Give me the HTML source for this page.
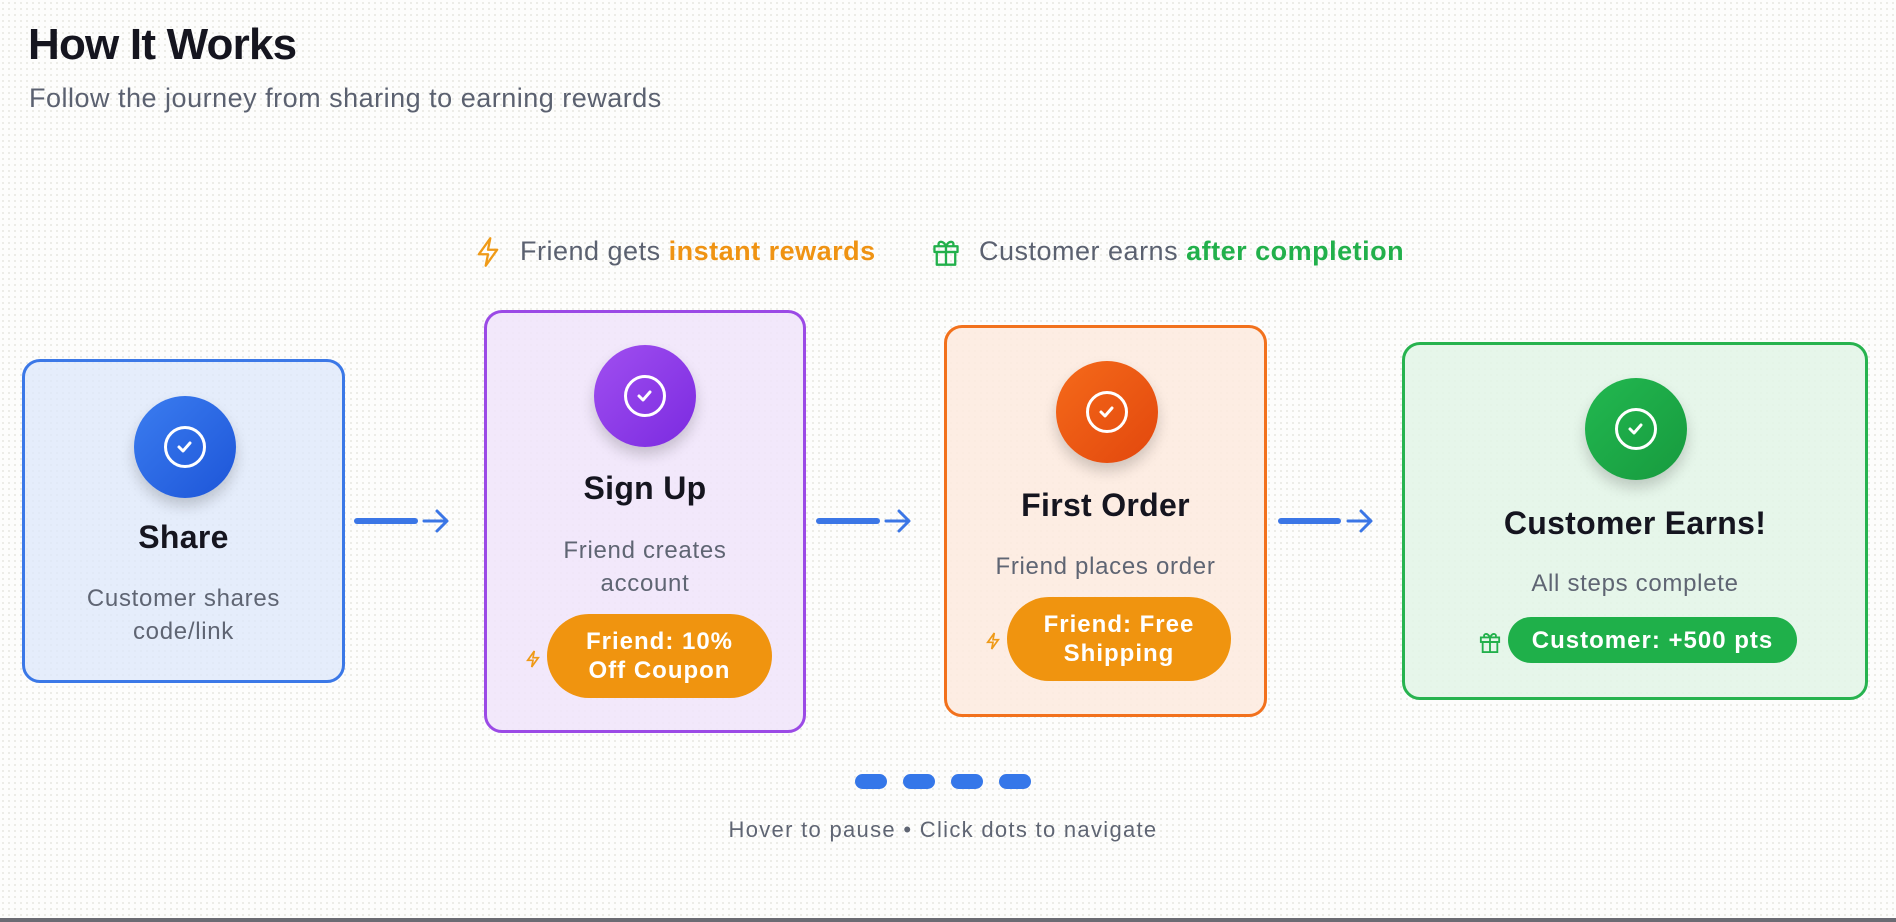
<!DOCTYPE html>
<html><head><meta charset="utf-8"><style>
*{margin:0;padding:0;box-sizing:border-box}
body{width:1896px;height:922px;overflow:hidden;background:#fdfdfc;background-image:radial-gradient(#e6e6e0 1px,transparent 1px);background-size:6px 6px;font-family:"Liberation Sans",sans-serif;position:relative}
.a{position:absolute}
h1{position:absolute;left:28px;top:20px;font-size:44px;font-weight:700;color:#15151f;letter-spacing:-0.8px}
.sub{left:29px;top:83px;font-size:27px;color:#5b6170;letter-spacing:0.5px}
.leg{top:236px;font-size:27px;color:#5b6170;white-space:nowrap;letter-spacing:0.5px}
.card{position:absolute;border:3.5px solid;border-radius:18px}
.circ{position:absolute;width:102px;height:102px;border-radius:50%;box-shadow:0 8px 14px rgba(0,0,0,.18)}
.circ::after{content:"";position:absolute;left:30px;top:30px;width:42px;height:42px;border:3.5px solid #fff;border-radius:50%;box-sizing:border-box}
.circ svg{position:absolute;left:41px;top:43px}
.t{position:absolute;width:100%;text-align:center;font-size:32px;font-weight:700;color:#15151f;letter-spacing:0.3px}
.d{position:absolute;width:100%;text-align:center;font-size:24px;color:#5f6573;line-height:33px;letter-spacing:0.7px}
.badge{position:absolute;border-radius:42px;color:#fff;font-weight:700;font-size:24px;text-align:center;display:flex;align-items:center;justify-content:center;line-height:29px;letter-spacing:1px}
.line{position:absolute;height:6px;border-radius:3px;background:#3b76e6}
.dot{position:absolute;top:774px;width:32px;height:15px;border-radius:8px;background:#3577e9}
</style></head><body>
<h1>How It Works</h1>
<div class="a sub">Follow the journey from sharing to earning rewards</div>

<svg class="a" style="left:474px;top:236px" width="28" height="32" viewBox="0 0 24 28"><path d="M14 2 L4 16 H12 L10 26 L20 12 H12 Z" fill="none" stroke="#ef9a17" stroke-width="2" stroke-linejoin="round"/></svg>
<div class="a leg" style="left:520px">Friend gets <b style="color:#ef9313">instant rewards</b></div>
<svg class="a" style="left:932px;top:237px" width="28" height="30" viewBox="0 0 24 26"><g fill="none" stroke="#22b04b" stroke-width="2" stroke-linejoin="round"><rect x="2" y="8" width="20" height="5"/><rect x="4" y="13" width="16" height="11"/><path d="M12 8v16M12 8c-3-6-8-4-6 0M12 8c3-6 8-4 6 0"/></g></svg>
<div class="a leg" style="left:979px">Customer earns <b style="color:#22b04b">after completion</b></div>

<!-- card1 -->
<div class="card" style="left:22px;top:359px;width:323px;height:324px;border-color:#3b78e7;background:rgba(222,233,250,.8)">
<div class="circ" style="left:109px;top:34px;background:linear-gradient(135deg,#3b7df0,#1d55d8)"><svg width="20" height="16" viewBox="0 0 20 16"><path d="M4 8 L8 12 L15 4" fill="none" stroke="#fff" stroke-width="3" stroke-linecap="round" stroke-linejoin="round"/></svg></div>
<div class="t" style="top:157px">Share</div>
<div class="d" style="top:220px">Customer shares<br>code/link</div>
</div>
<div class="line" style="left:354px;top:518px;width:64px"></div>
<svg class="a" style="left:420px;top:506px" width="32" height="30" viewBox="0 0 32 30"><path d="M4 15 H26 M17 5 L27 15 L17 25" fill="none" stroke="#3b76e6" stroke-width="3" stroke-linecap="round" stroke-linejoin="round"/></svg>

<!-- card2 -->
<div class="card" style="left:484px;top:310px;width:322px;height:423px;border-color:#9b4ae6;background:rgba(240,228,250,.85)">
<div class="circ" style="left:107px;top:32px;background:linear-gradient(135deg,#a04ff0,#7b2ae0)"><svg width="20" height="16" viewBox="0 0 20 16"><path d="M4 8 L8 12 L15 4" fill="none" stroke="#fff" stroke-width="3" stroke-linecap="round" stroke-linejoin="round"/></svg></div>
<div class="t" style="top:157px">Sign Up</div>
<div class="d" style="top:221px">Friend creates<br>account</div>
<svg class="a" style="left:38px;top:336px" width="16" height="20" viewBox="0 0 24 28"><path d="M14 2 L4 16 H12 L10 26 L20 12 H12 Z" fill="none" stroke="#ef9a17" stroke-width="2.5"/></svg>
<div class="badge" style="left:60px;top:301px;width:225px;height:84px;background:#f0940f">Friend: 10%<br>Off Coupon</div>
</div>
<div class="line" style="left:816px;top:518px;width:64px"></div>
<svg class="a" style="left:882px;top:506px" width="32" height="30" viewBox="0 0 32 30"><path d="M4 15 H26 M17 5 L27 15 L17 25" fill="none" stroke="#3b76e6" stroke-width="3" stroke-linecap="round" stroke-linejoin="round"/></svg>

<!-- card3 -->
<div class="card" style="left:944px;top:325px;width:323px;height:392px;border-color:#f2711c;background:rgba(253,234,222,.85)">
<div class="circ" style="left:109px;top:33px;background:linear-gradient(135deg,#f56a1a,#e2470d)"><svg width="20" height="16" viewBox="0 0 20 16"><path d="M4 8 L8 12 L15 4" fill="none" stroke="#fff" stroke-width="3" stroke-linecap="round" stroke-linejoin="round"/></svg></div>
<div class="t" style="top:159px">First Order</div>
<div class="d" style="top:222px">Friend places order</div>
<svg class="a" style="left:38px;top:303px" width="16" height="20" viewBox="0 0 24 28"><path d="M14 2 L4 16 H12 L10 26 L20 12 H12 Z" fill="none" stroke="#ef9a17" stroke-width="2.5"/></svg>
<div class="badge" style="left:60px;top:269px;width:224px;height:84px;background:#f0940f">Friend: Free<br>Shipping</div>
</div>
<div class="line" style="left:1278px;top:518px;width:63px"></div>
<svg class="a" style="left:1344px;top:506px" width="32" height="30" viewBox="0 0 32 30"><path d="M4 15 H26 M17 5 L27 15 L17 25" fill="none" stroke="#3b76e6" stroke-width="3" stroke-linecap="round" stroke-linejoin="round"/></svg>

<!-- card4 -->
<div class="card" style="left:1402px;top:342px;width:466px;height:358px;border-color:#27b34f;background:rgba(226,245,230,.85)">
<div class="circ" style="left:180px;top:33px;background:linear-gradient(135deg,#22b850,#179a3e)"><svg width="20" height="16" viewBox="0 0 20 16"><path d="M4 8 L8 12 L15 4" fill="none" stroke="#fff" stroke-width="3" stroke-linecap="round" stroke-linejoin="round"/></svg></div>
<div class="t" style="top:160px">Customer Earns!</div>
<div class="d" style="top:222px">All steps complete</div>
<svg class="a" style="left:74px;top:285px" width="22" height="24" viewBox="0 0 24 26"><g fill="none" stroke="#22b04b" stroke-width="2"><rect x="2" y="8" width="20" height="5"/><rect x="4" y="13" width="16" height="11"/><path d="M12 8v16M12 8c-3-6-8-4-6 0M12 8c3-6 8-4 6 0"/></g></svg>
<div class="badge" style="left:103px;top:272px;width:289px;height:46px;background:#1fb04a">Customer: +500 pts</div>
</div>

<div class="dot" style="left:855px"></div>
<div class="dot" style="left:903px"></div>
<div class="dot" style="left:951px"></div>
<div class="dot" style="left:999px"></div>
<div class="a" style="left:0;width:1886px;top:817px;text-align:center;font-size:22px;color:#5f6573;letter-spacing:1.3px">Hover to pause • Click dots to navigate</div>
<div class="a" style="left:0;top:918px;width:1896px;height:4px;background:#6b6b73"></div>
</body></html>
